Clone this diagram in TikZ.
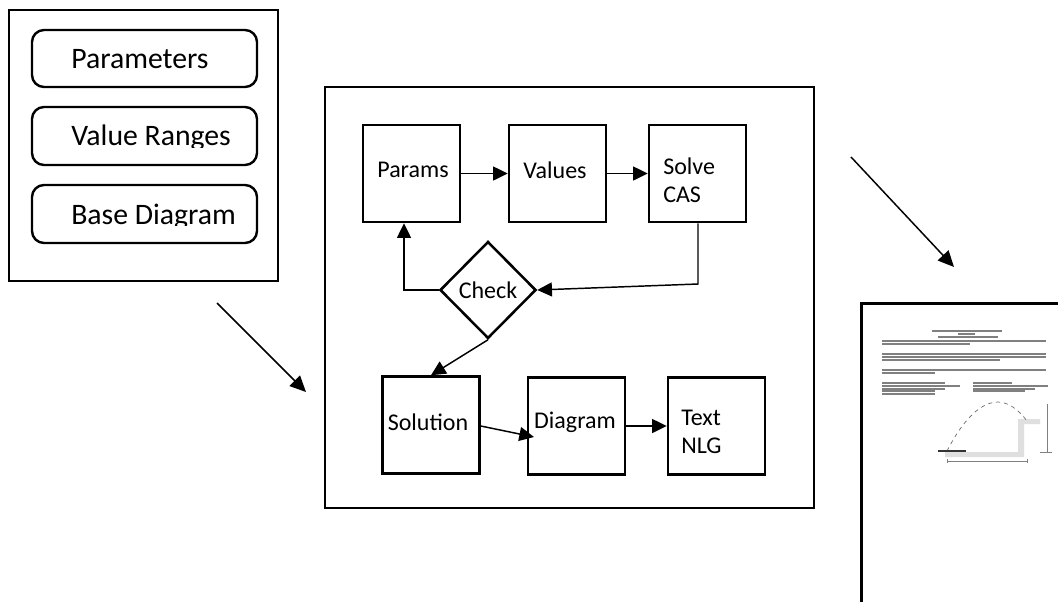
\documentclass[tikz,border=0pt]{standalone}
\usepackage{fontspec}
\setmainfont{Carlito}
\usetikzlibrary{arrows.meta,shapes.geometric}
\begin{document}
\begin{tikzpicture}[x=0.75pt,y=-0.75pt,
  frame/.style={draw,line width=2.2pt,inner sep=0pt},
  rbox/.style={draw,line width=1.8pt,rounded corners=9pt,minimum width=225*0.75pt,inner sep=0pt},
  big/.style={font=\fontsize{22.3}{26}\selectfont,inner sep=0pt,anchor=base west},
  sq/.style={draw,line width=1.9pt,minimum width=97*0.75pt,minimum height=97*0.75pt,inner sep=0pt},
  lbl/.style={font=\fontsize{18}{21}\selectfont,align=left,inner sep=0pt,anchor=west},
  dia/.style={draw,diamond,line width=1.9pt,minimum width=96*0.75pt,minimum height=97*0.75pt,inner sep=0pt,font=\fontsize{18}{21}\selectfont},
  conn/.style={line width=1.1pt,-{Triangle[length=11pt,width=10.5pt]}},
  bigarrow/.style={line width=1.1pt,-{Triangle[length=12pt,width=11pt]}},
  doctext/.style={black!50,line width=1.1pt},
]
\clip (0,0) rectangle (1058,601);
\fill[white] (0,0) rectangle (1058,601);

% ---- left input box
\node[frame,minimum width=269*0.75pt,minimum height=271*0.75pt] (inputs) at (143.5,145.5) {};
\node[rbox,minimum height=57*0.75pt] (parameters) at (144.5,58.5) {};
\node[rbox,minimum height=58*0.75pt] (ranges) at (144.5,136) {};
\node[rbox,minimum height=58*0.75pt] (base) at (144.5,214) {};
\node[big] (tparameters) at (71,68.5) {Parameters};
\begin{scope}
  \clip (0,0) rectangle (1058,147);
  \node[big] (tranges) at (71,145.5) {Value Ranges};
\end{scope}
\begin{scope}
  \clip (0,0) rectangle (1058,225.5);
  \node[big] (tbase) at (71,224) {Base Diagram};
\end{scope}

% ---- central process box
\node[frame,minimum width=489*0.75pt,minimum height=421*0.75pt] (engine) at (569.5,297.5) {};

\node[sq] (params) at (411.5,173.5) {};
\node[sq] (values) at (557.5,173.5) {};
\node[sq] (solve) at (697.5,173.5) {};
\node[lbl,anchor=center] (tparams) at (413,170) {Params};
\node[lbl,anchor=center] (tvalues) at (555,170) {Values};
\node[lbl,anchor=north west] (tsolve) at (663,158) {Solve\\CAS};

\node[dia] (check) at (488,290) {Check};

\node[sq] (solution) at (431,425) {};
\node[sq] (diagram) at (576.5,426) {};
\node[sq] (text) at (716.5,426) {};
\node[lbl,anchor=center] (tsolution) at (428,422) {Solution};
\node[lbl,anchor=center] (tdiagram) at (575,422) {Diagram};
\node[lbl,anchor=north west] (ttext) at (681,410) {Text\\NLG};

\coordinate (sc) at (698,284);
\coordinate (cp) at (404,290);
\coordinate (sd) at (534,437);

\draw[conn] (params.east) -- (values.west);
\draw[conn] (values.east) -- (solve.west);
\draw[conn] (solve.south -| sc) -- (sc) -- (check.east);
\draw[conn] (check.west) -- (cp) -- (cp |- params.south);
\draw[conn] (check.south) -- (solution.north);
\draw[conn] ([yshift=-1*0.75pt]solution.east) -- (sd);
\draw[conn] (diagram.east) -- (text.west);

% ---- output document (partially off the page)
\node[frame,line width=2.4pt,minimum width=220*0.75pt,minimum height=320*0.75pt,anchor=north west] (doc) at (860,302) {};

% big arrows
\coordinate (a1s) at (217,303);
\coordinate (a1e) at (306,392);
\coordinate (a2s) at (851,157);
\coordinate (a2e) at (954,267);
\draw[bigarrow] (a1s) -- (a1e);
\draw[bigarrow] (a2s) -- (a2e);

% document content (illegible small print, drawn as grey lines)
\draw[doctext] (932,331) -- (1002,331);
\draw[doctext] (958,334) -- (975,334);
\draw[doctext] (938,337) -- (998,337);
\draw[doctext] (882,341) -- (1046,341);
\draw[doctext] (882,344) -- (970,344);
\draw[doctext] (882,354) -- (1046,354);
\draw[doctext] (882,357) -- (1046,357);
\draw[doctext] (882,360) -- (1000,360);
\draw[doctext] (882,370) -- (1046,370);
\draw[doctext] (882,373) -- (935,373);
\foreach \yy/\l in {383/945,386/960,389/945,391/935,394/935}
  \draw[doctext] (882,\yy) -- (\l,\yy);
\foreach \yy/\l in {383/1012,386/1048,389/1035,391/1025}
  \draw[doctext] (973,\yy) -- (\l,\yy);
\fill[gray!25] (945,457) -- (1024,457) -- (1024,424) -- (1040,424) -- (1040,419) -- (1018,419) -- (1018,452) -- (945,452) -- cycle;
\draw[black!60,line width=0.5pt,dashed] (947,451) parabola bend (998,402) (1027,421);
\draw[black!80,line width=0.8pt] (938,451) -- (966,451);
\draw[black!50,line width=0.5pt] (1047,404) -- (1047,452);
\draw[black!50,line width=0.5pt] (1040,452) -- (1052,452);
\draw[black!50,line width=0.5pt] (947,461) -- (1027,461);
\draw[black!50,line width=0.5pt] (947,459) -- (947,463);
\draw[black!50,line width=0.5pt] (1027,459) -- (1027,463);
\end{tikzpicture}
\end{document}
